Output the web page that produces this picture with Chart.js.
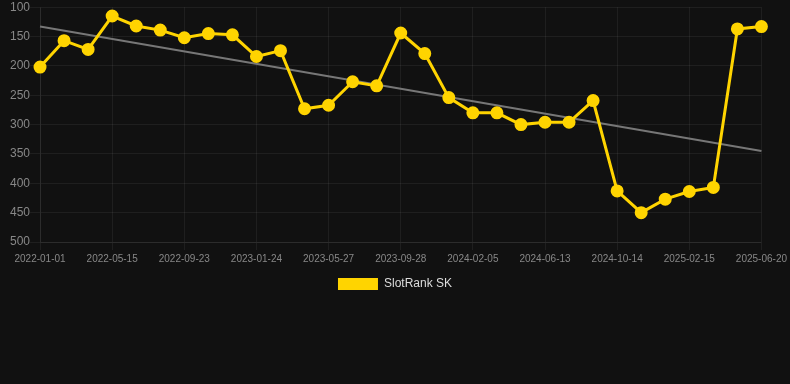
<!DOCTYPE html>
<html>
<head>
<meta charset="utf-8">
<script src="https://cdn.jsdelivr.net/npm/chart.js@4"></script>
<style>
  html, body { margin: 0; padding: 0; background: #111111; }
  #wrap { position: relative; width: 790px; height: 300px; }
</style>
</head>
<body>
<div id="wrap"><canvas id="c"></canvas></div>
<script>
const dates = ["2022-01-01","2022-02-14","2022-03-30","2022-05-15","2022-06-28","2022-08-10","2022-09-23","2022-11-04","2022-12-14","2023-01-24","2023-03-05","2023-04-16","2023-05-27","2023-07-08","2023-08-18","2023-09-28","2023-11-09","2023-12-23","2024-02-05","2024-03-19","2024-05-01","2024-06-13","2024-07-24","2024-09-03","2024-10-14","2024-11-25","2025-01-05","2025-02-15","2025-03-30","2025-05-10","2025-06-20"];
const rankSK = [202,157,172,115,132,139,152,145,147,184,174,273,267,227,234,144,179,254,280,280,300,296,296,259,413,450,427,414,407,137,133];
const trendStart = 133;
const trendEnd = 345;
const yTicks = [100,150,200,250,300,350,400,450,500];

const trend = dates.map((d, i) => i === 0 ? trendStart : (i === dates.length - 1 ? trendEnd : null));

new Chart(document.getElementById('c'), {
  type: 'line',
  data: {
    labels: dates,
    datasets: [
      {
        label: 'SlotRank SK',
        data: rankSK,
        borderColor: '#FFD400',
        backgroundColor: '#FFD400',
        borderWidth: 3,
        pointRadius: 5,
        pointHoverRadius: 6,
        pointBackgroundColor: '#FFD400',
        pointBorderColor: '#FFD400',
        tension: 0
      },
      {
        label: 'trend',
        data: trend,
        borderColor: '#777777',
        borderWidth: 2,
        pointRadius: 0,
        spanGaps: true,
        tension: 0
      }
    ]
  },
  options: {
    responsive: true,
    maintainAspectRatio: false,
    animation: false,
    layout: { autoPadding: false, padding: { left: 0, right: 0, top: 0, bottom: 0 } },
    plugins: {
      legend: {
        position: 'bottom',
        labels: {
          color: '#dddddd',
          font: { size: 12, family: 'Liberation Sans, Arial, sans-serif' },
          boxWidth: 40,
          boxHeight: 12,
          generateLabels: (chart) => [{
            text: chart.data.datasets[0].label,
            fillStyle: '#FFD400',
            strokeStyle: '#FFD400',
            lineWidth: 0,
            fontColor: '#dddddd',
            datasetIndex: 0,
            hidden: false
          }]
        }
      },
      tooltip: { enabled: false }
    },
    scales: {
      x: {
        grid: { color: 'rgba(255,255,255,0.06)', drawTicks: true, tickLength: 8 },
        border: { color: 'rgba(255,255,255,0.06)' },
        ticks: {
          color: '#888888',
          font: { size: 10, family: 'Liberation Sans, Arial, sans-serif' },
          autoSkip: false,
          maxRotation: 0,
          padding: 3,
          callback: function(v, i) { return i % 3 === 0 ? dates[i] : null; }
        }
      },
      y: {
        reverse: true,
        min: 100,
        max: 500,
        afterBuildTicks: (axis) => { axis.ticks = yTicks.map(v => ({ value: v })); },
        afterFit: (axis) => { axis.width += 10; },
        grid: { color: 'rgba(255,255,255,0.06)', drawTicks: true, tickLength: 10 },
        border: { color: 'rgba(255,255,255,0.06)' },
        ticks: {
          color: '#888888',
          font: { size: 12, family: 'Liberation Sans, Arial, sans-serif' },
          padding: 0
        }
      }
    }
  }
});
</script>
</body>
</html>
